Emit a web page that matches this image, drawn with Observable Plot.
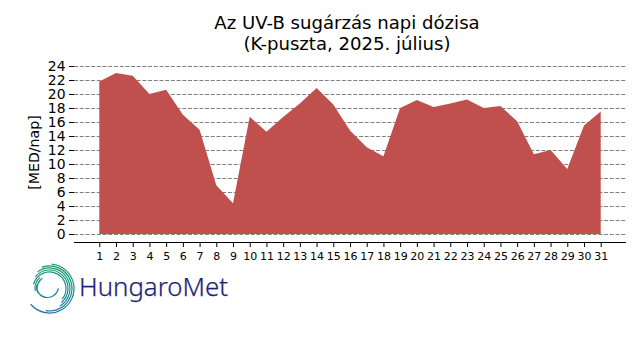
<!DOCTYPE html>
<html><head><meta charset="utf-8">
<script src="https://cdn.jsdelivr.net/npm/d3@7"></script>
<script src="https://cdn.jsdelivr.net/npm/@observablehq/plot@0.6"></script>
<style>
html,body{margin:0;padding:0;background:#fff}
#wrap{position:relative;width:640px;height:360px;overflow:hidden}
#logo{position:absolute;left:0;top:0}
</style></head><body><div id="wrap"></div>
<script>
const days = d3.range(1, 32);
const dose = [21.8,23.0,22.6,20.0,20.6,17.05,14.9,6.95,4.4,16.75,14.6,16.7,18.65,20.85,18.5,14.8,12.4,11.1,18.0,19.15,18.15,18.65,19.2,18.0,18.3,16.1,11.4,12.0,9.3,15.5,17.5];
const yTicks = d3.range(0, 25, 2);
const titleLines = ["Az UV-B sugárzás napi dózisa", "(K-puszta, 2025. július)"];
const yLabel = "[MED/nap]";
const logoText = "HungaroMet";
const rows = days.map((d, i) => ({day: d, dose: dose[i]}));
const font = "'DejaVu Sans', sans-serif";
const chart = Plot.plot({
  width: 640, height: 360,
  marginLeft: 74, marginRight: 14, marginTop: 66, marginBottom: 118,
  style: {fontFamily: font, background: "#fff", color: "#000"},
  x: {domain: [-0.514, 32.514], label: null},
  y: {domain: [-1.14, 24], label: null},
  marks: [
    Plot.ruleY(yTicks, {stroke: "#808080", strokeWidth: 1, strokeDasharray: "4,1.7"}),
    Plot.axisY({ticks: yTicks, tickSize: 5, tickPadding: 4, stroke: "#000", fill: "#000", fontSize: 13.9, label: null, tickFormat: d => d}),
    Plot.areaY(rows, {x: "day", y: "dose", fill: "#c0504d", curve: "linear"}),
    Plot.ruleY([-1.14], {stroke: "#000", strokeWidth: 1}),
    Plot.axisX({ticks: days, tickSize: 5, tickPadding: 5, fontSize: 11, label: null, stroke: "#000", fill: "#000", tickFormat: d => d})
  ]
});
chart.style.display = "block";
const svg = d3.select(chart);
svg.append("g").attr("font-family", font).attr("font-size", 18.1).attr("text-anchor", "middle").attr("fill", "#000")
  .selectAll("text").data(titleLines).join("text").attr("x", 347).attr("y", (d, i) => 28.7 + i * 21.5).text(d => d);
svg.append("text").attr("transform", "translate(39,152.5) rotate(-90)").attr("text-anchor", "middle")
  .attr("font-family", font).attr("font-size", 14.2).attr("fill", "#000").text(yLabel);
document.getElementById("wrap").append(chart);

// logo
const logo = d3.select("#wrap").append("svg").attr("id", "logo").attr("width", 640).attr("height", 360);
const grad = logo.append("defs").append("linearGradient").attr("id", "lg").attr("gradientUnits", "userSpaceOnUse")
  .attr("x1", 0).attr("y1", 264).attr("x2", 0).attr("y2", 313);
grad.append("stop").attr("offset", "0").attr("stop-color", "#149a62");
grad.append("stop").attr("offset", "0.5").attr("stop-color", "#1b8f8f");
grad.append("stop").attr("offset", "1").attr("stop-color", "#1f6fa8");
const cx = 49.5, cy = 288.5;
function arc(r, a0, a1, ox = 0, oy = 0) {
  const p = a => [cx + ox + r * Math.cos(a * Math.PI / 180), cy + oy + r * Math.sin(a * Math.PI / 180)];
  const [x0, y0] = p(a0), [x1, y1] = p(a1);
  return `M${x0},${y0}A${r},${r} 0 ${Math.abs(a1 - a0) > 180 ? 1 : 0} 1 ${x1},${y1}`;
}
const arcs = [[24.5,-85,60],[22.5,-110,70],[20.5,-125,60],[18.5,-140,50],[16.5,-165,40],[14.5,-190,-130],[12.5,-200,-125],[24.5,60,140],[22.5,70,100]];
logo.append("g").attr("fill", "none").attr("stroke", "url(#lg)").attr("stroke-width", 1.2)
  .selectAll("path").data(arcs).join("path").attr("d", d => arc(d[0], d[1], d[2]));
logo.append("path").attr("fill", "none").attr("stroke", "url(#lg)").attr("stroke-width", 1.2).attr("d", arc(11, 10, 190, -2, -2));
logo.append("text").attr("x", 79).attr("y", 296).attr("font-family", "'Noto Sans', sans-serif").attr("font-weight", 300)
  .attr("font-size", 25).attr("textLength", 149).attr("lengthAdjust", "spacingAndGlyphs").attr("fill", "#1f1f78").attr("stroke", "#1f1f78").attr("stroke-width", 0.25).text(logoText);
</script></body></html>
